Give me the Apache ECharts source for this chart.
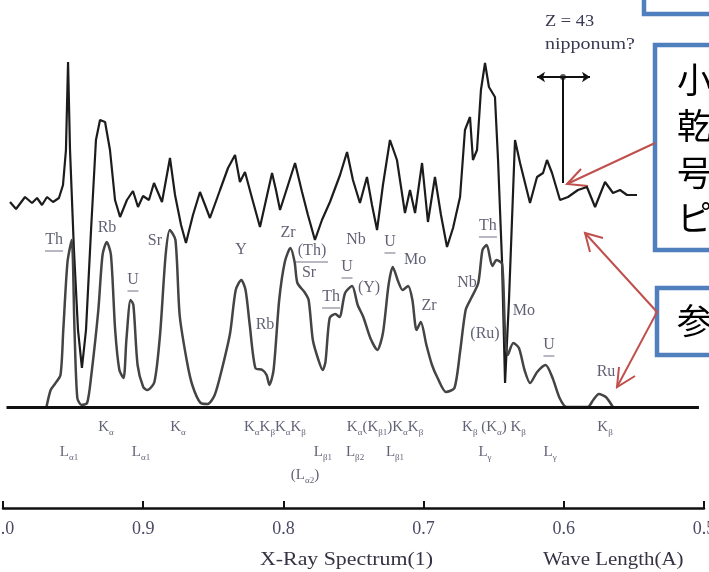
<!DOCTYPE html>
<html>
<head>
<meta charset="utf-8">
<script src="https://cdn.jsdelivr.net/npm/echarts@6/dist/echarts.min.js"></script>
<style>
  html, body { margin: 0; padding: 0; background: #fff; }
  #chart { width: 709px; height: 572px; }
</style>
</head>
<body>
<div id="chart"></div>
<script>
// 上段のスペクトル（ノイズの多い黒線） [波長 Å, 強度]
const upperSpectrum = [
  [0.9950, 205], [0.9907, 198], [0.9843, 210], [0.9793, 204], [0.9757, 209], [0.9722, 202],
  [0.9686, 210], [0.9643, 205], [0.9601, 209], [0.9572, 222], [0.9551, 257], [0.9536, 345],
  [0.9522, 257], [0.9494, 157], [0.9465, 77], [0.9437, 39], [0.9408, 77], [0.9372, 177],
  [0.9337, 267], [0.9308, 287], [0.9272, 285], [0.9237, 257], [0.9201, 207], [0.9165, 190],
  [0.9116, 207], [0.9073, 216], [0.9037, 200], [0.9001, 211], [0.8959, 207], [0.8923, 224],
  [0.8866, 205], [0.8809, 249], [0.8773, 212], [0.8730, 182], [0.8695, 164], [0.8645, 192],
  [0.8595, 215], [0.8559, 202], [0.8524, 189], [0.8452, 217], [0.8395, 239], [0.8345, 252],
  [0.8310, 225], [0.8274, 235], [0.8224, 209], [0.8167, 180], [0.8124, 207], [0.8081, 234],
  [0.8053, 217], [0.8024, 197], [0.7967, 222], [0.7917, 244], [0.7867, 215], [0.7825, 192],
  [0.7775, 167], [0.7725, 187], [0.7668, 205], [0.7596, 232], [0.7546, 255], [0.7504, 227],
  [0.7454, 204], [0.7404, 230], [0.7368, 202], [0.7332, 177], [0.7290, 222], [0.7240, 267],
  [0.7190, 247], [0.7133, 194], [0.7097, 217], [0.7061, 194], [0.7011, 244], [0.6969, 185],
  [0.6919, 230], [0.6876, 192], [0.6833, 160], [0.6790, 179], [0.6740, 210], [0.6705, 277],
  [0.6669, 290], [0.6648, 247], [0.6619, 257], [0.6591, 317], [0.6562, 344], [0.6534, 320],
  [0.6491, 310], [0.6469, 247], [0.6441, 147], [0.6419, 24], [0.6391, 107], [0.6348, 267],
  [0.6312, 244], [0.6241, 204], [0.6191, 230], [0.6148, 234], [0.6120, 247], [0.6084, 234],
  [0.6027, 207], [0.5970, 210], [0.5899, 217], [0.5835, 220], [0.5777, 200], [0.5706, 225],
  [0.5649, 214], [0.5599, 217], [0.5549, 212], [0.5478, 212]
];

// 下段のスペクトル（なめらかな灰色線）
const lowerSpectrum = [
  [0.969, 0], [0.966, 17], [0.963, 23], [0.959, 32], [0.957, 77], [0.954, 145], [0.951, 167],
  [0.949, 77], [0.947, 9], [0.944, 2], [0.940, 4], [0.937, 32], [0.932, 97], [0.929, 152],
  [0.926, 165], [0.923, 152], [0.920, 77], [0.917, 37], [0.914, 29], [0.912, 67], [0.909, 107],
  [0.907, 102], [0.904, 42], [0.900, 20], [0.897, 17], [0.892, 25], [0.888, 72], [0.884, 152],
  [0.881, 177], [0.877, 167], [0.874, 92], [0.869, 47], [0.865, 22], [0.859, 4], [0.854, 3],
  [0.849, 12], [0.844, 37], [0.838, 74], [0.834, 117], [0.830, 127], [0.827, 117], [0.824, 82],
  [0.820, 39], [0.815, 37], [0.812, 32], [0.810, 22], [0.807, 37], [0.803, 107], [0.799, 145],
  [0.795, 159], [0.792, 145], [0.790, 124], [0.785, 115], [0.782, 107], [0.779, 67], [0.775, 47],
  [0.772, 37], [0.770, 45], [0.767, 89], [0.763, 93], [0.760, 90], [0.756, 114], [0.751, 121],
  [0.747, 102], [0.743, 90], [0.738, 69], [0.733, 57], [0.729, 74], [0.725, 122], [0.722, 140],
  [0.718, 125], [0.715, 117], [0.711, 121], [0.708, 107], [0.705, 77], [0.702, 85], [0.698, 62],
  [0.694, 42], [0.690, 29], [0.684, 15], [0.678, 19], [0.674, 55], [0.670, 97], [0.666, 109],
  [0.661, 124], [0.658, 157], [0.655, 162], [0.651, 141], [0.648, 147], [0.644, 143], [0.642, 77],
  [0.640, 52], [0.636, 64], [0.632, 59], [0.628, 37], [0.624, 24], [0.619, 35], [0.613, 42],
  [0.608, 29], [0.603, 9], [0.598, 0], [0.583, 0], [0.579, 7], [0.575, 13], [0.570, 10], [0.565, 0]
];

// 元素名 [波長, 強度, 名前, 下線]
const elementLabels = [
  [0.9636, 167, 'Th', true], [0.9258, 179, 'Rb', false], [0.8916, 166, 'Sr', false],
  [0.9073, 127, 'U', true], [0.8302, 157, 'Y', false], [0.8131, 82, 'Rb', false],
  [0.7967, 174, 'Zr', false], [0.7796, 156, '(Th)', true], [0.7817, 134, 'Sr', false],
  [0.7660, 110, 'Th', true], [0.7482, 167, 'Nb', false], [0.7546, 140, 'U', true],
  [0.7389, 119, '(Y)', false], [0.7240, 165, 'U', true], [0.7061, 147, 'Mo', false],
  [0.6961, 101, 'Zr', false], [0.6690, 124, 'Nb', false], [0.6541, 181, 'Th', true],
  [0.6562, 73, '(Ru)', false], [0.6284, 96, 'Mo', false], [0.6106, 62, 'U', true],
  [0.5699, 35, 'Ru', false]
];

// 基線の下の系列名（_ の後ろは添字）
const lineLabels = [
  [0.9265, -20, 'K_α'], [0.8752, -20, 'K_α'], [0.8060, -20, 'K_αK_βK_αK_β'],
  [0.7275, -20, 'K_α(K_β1)K_αK_β'], [0.6498, -20, 'K_β (K_α) K_β'], [0.5706, -20, 'K_β'],
  [0.9529, -45, 'L_α1'], [0.9016, -45, 'L_α1'], [0.7718, -45, 'L_β1'], [0.7489, -45, 'L_β2'],
  [0.7204, -45, 'L_β1'], [0.6562, -45, 'L_γ'], [0.6098, -45, 'L_γ'],
  [0.7846, -68, '(L_α2)']
];

// Z=43 の位置
const nipponiumMark = { left: 0.6191, right: 0.5813, center: 0.6006, top: 330, bottom: 224 };

const SERIF = '"Liberation Serif", "DejaVu Serif", serif';
const TEXT_COLOR = '#3a3a52';

function toRich(s) {
  return s.split(/(_[^A-Z()\s]+)/).filter(p => p).map(p =>
    p[0] === '_' ? '{s|' + p.slice(1) + '}' : '{m|' + p + '}'
  ).join('');
}

const chart = echarts.init(document.getElementById('chart'), null, { renderer: 'canvas' });

const option = {
  animation: false,
  backgroundColor: '#ffffff',
  grid: { left: 3, right: 5, top: 0, bottom: 64, containLabel: false, outerBoundsMode: 'none' },
  xAxis: {
    type: 'value',
    inverse: true,
    min: 0.5,
    max: 1.0,
    interval: 0.1,
    splitLine: { show: false },
    axisLine: { onZero: false, lineStyle: { color: '#111', width: 2.5 } },
    axisTick: { inside: true, length: 7, lineStyle: { color: '#111', width: 2 } },
    axisLabel: {
      showMinLabel: true, showMaxLabel: true,
      margin: 12,
      color: '#4a4a66',
      fontFamily: SERIF,
      fontSize: 18,
      formatter: v => v.toFixed(1)
    }
  },
  yAxis: { type: 'value', show: false, min: -101, max: 407 },
  series: [
    {
      name: 'upper',
      type: 'line',
      data: upperSpectrum,
      symbol: 'none',
      lineStyle: { color: '#1c1c1c', width: 2.2 },
      markLine: {
        silent: true,
        label: { show: false },
        lineStyle: { color: '#111', width: 2, type: 'solid' },
        symbolSize: 8,
        data: [
          [{ coord: [nipponiumMark.left, nipponiumMark.top], symbol: 'arrow' },
           { coord: [nipponiumMark.right, nipponiumMark.top], symbol: 'arrow' }],
          [{ coord: [nipponiumMark.center, nipponiumMark.top], symbol: 'none' },
           { coord: [nipponiumMark.center, nipponiumMark.bottom], symbol: 'none' }]
        ]
      }
    },
    {
      name: 'lower',
      type: 'line',
      data: lowerSpectrum,
      symbol: 'none',
      smooth: 0.25,
      lineStyle: { color: '#444', width: 2.5 },
      markLine: {
        silent: true,
        symbol: 'none',
        label: { show: false },
        lineStyle: { color: '#111', width: 3, type: 'solid' },
        data: [[{ coord: [0.9975, 0] }, { coord: [0.5036, 0] }]]
      }
    },
    {
      name: 'mark-dot',
      type: 'scatter',
      data: [[nipponiumMark.center, nipponiumMark.top]],
      symbolSize: 6,
      itemStyle: { color: '#333' }
    },
    {
      name: 'elements',
      type: 'scatter',
      data: elementLabels.map(d => ({ value: [d[0], d[1]], name: d[2] })),
      symbolSize: 1,
      itemStyle: { color: 'rgba(0,0,0,0)' },
      label: {
        show: true,
        position: 'inside',
        formatter: p => p.name,
        color: TEXT_COLOR,
        fontFamily: SERIF,
        fontSize: 16
      }
    },
    {
      name: 'underlines',
      type: 'scatter',
      data: elementLabels.filter(d => d[3]).map(d => ({ value: [d[0], d[1]], name: d[2] })),
      symbol: 'rect',
      symbolSize: (v, p) => [p.name.length * 7 + 4, 1.5],
      symbolOffset: [0, 11],
      itemStyle: { color: '#8a8a9a' }
    },
    {
      name: 'lines',
      type: 'scatter',
      data: lineLabels.map(d => ({ value: [d[0], d[1]], name: d[2] })),
      symbolSize: 1,
      itemStyle: { color: 'rgba(0,0,0,0)' },
      label: {
        show: true,
        position: 'inside',
        formatter: p => toRich(p.name),
        color: TEXT_COLOR,
        fontFamily: SERIF,
        rich: {
          m: { fontSize: 15, lineHeight: 20, fontFamily: SERIF, color: TEXT_COLOR, verticalAlign: 'middle' },
          s: { fontSize: 9, lineHeight: 10, fontFamily: SERIF, color: TEXT_COLOR, verticalAlign: 'bottom' }
        }
      }
    }
  ],
  graphic: [
    // 注釈
    { type: 'text', x: 545, y: 22, scaleX: 1.15, style: { text: 'Z = 43', font: '16px ' + SERIF, fill: TEXT_COLOR, textVerticalAlign: 'middle' } },
    { type: 'text', x: 545, y: 45, scaleX: 1.25, style: { text: 'nipponum?', font: '16px ' + SERIF, fill: TEXT_COLOR, textVerticalAlign: 'middle' } },
    { type: 'text', x: 260, y: 560, scaleX: 1.15, style: { text: 'X-Ray Spectrum(1)', font: '19px ' + SERIF, fill: '#333344', textVerticalAlign: 'middle' } },
    { type: 'text', x: 543, y: 560, scaleX: 1.1, style: { text: 'Wave Length(A)', font: '19px ' + SERIF, fill: '#333344', textVerticalAlign: 'middle' } },

    // 吹き出しの枠
    { type: 'rect', shape: { x: 644, y: -30, width: 90, height: 44 }, style: { fill: '#fff', stroke: '#4f7fbd', lineWidth: 4.5 } },
    { type: 'rect', shape: { x: 655, y: 45, width: 80, height: 205 }, style: { fill: '#fff', stroke: '#4f7fbd', lineWidth: 4.5 } },
    { type: 'rect', shape: { x: 657, y: 288, width: 80, height: 67 }, style: { fill: '#fff', stroke: '#4f7fbd', lineWidth: 4.5 } },
    { type: 'text', x: 677, y: 80, style: { text: '小', font: '35px "Noto Sans CJK JP"', fill: '#000', textVerticalAlign: 'middle' } },
    { type: 'text', x: 677, y: 126, style: { text: '乾', font: '35px "Noto Sans CJK JP"', fill: '#000', textVerticalAlign: 'middle' } },
    { type: 'text', x: 677, y: 173, style: { text: '号', font: '35px "Noto Sans CJK JP"', fill: '#000', textVerticalAlign: 'middle' } },
    { type: 'text', x: 677, y: 218, style: { text: 'ピ', font: '35px "Noto Sans CJK JP"', fill: '#000', textVerticalAlign: 'middle' } },
    { type: 'text', x: 677, y: 321, style: { text: '参', font: '35px "Noto Sans CJK JP"', fill: '#000', textVerticalAlign: 'middle' } },

    // 赤い矢印
    { type: 'polyline', shape: { points: [[655, 143], [567, 184]] }, style: { stroke: '#c0504d', lineWidth: 2, fill: null } },
    { type: 'polyline', shape: { points: [[581, 169], [567, 184], [588, 186]] }, style: { stroke: '#c0504d', lineWidth: 2, fill: null } },
    { type: 'polyline', shape: { points: [[585, 233], [657, 312], [617, 387]] }, style: { stroke: '#c0504d', lineWidth: 2, fill: null } },
    { type: 'polyline', shape: { points: [[603, 238], [585, 233], [590, 252]] }, style: { stroke: '#c0504d', lineWidth: 2, fill: null } },
    { type: 'polyline', shape: { points: [[635, 376], [617, 387], [619, 367]] }, style: { stroke: '#c0504d', lineWidth: 2, fill: null } }
  ]
};

chart.setOption(option);
</script>
</body>
</html>
